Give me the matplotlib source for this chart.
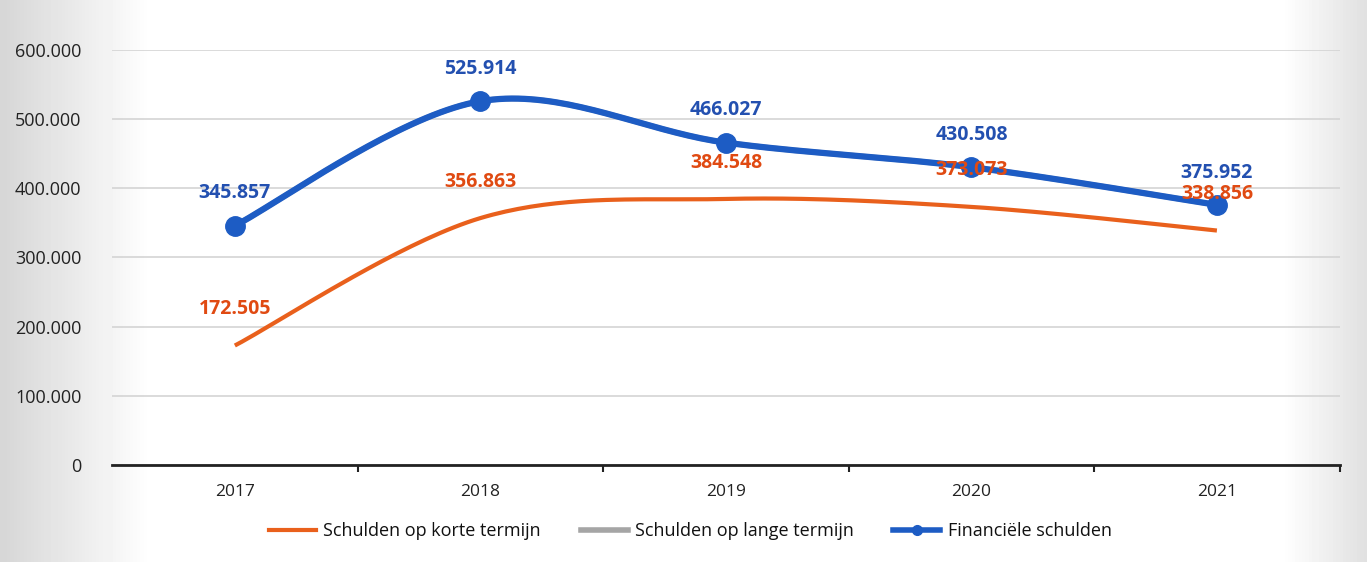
import numpy as np
import matplotlib.pyplot as plt
from matplotlib.lines import Line2D
from matplotlib.ticker import FuncFormatter

years = ["2017", "2018", "2019", "2020", "2021"]
korte_termijn = [172505, 356863, 384548, 373073, 338856]
lange_termijn = [345857, 525914, 466027, 430508, 375952]
financiele = [345857, 525914, 466027, 430508, 375952]

c_orange = "#e9601c"
c_orange_txt = "#e04a12"
c_gray = "#a5a5a5"
c_blue = "#1d5cc4"
c_blue_txt = "#2350b0"


def smooth(x, y, n=40):
    # Catmull-Rom style smoothing like Excel's "smoothed line"
    x = np.asarray(x, float)
    y = np.asarray(y, float)
    px = np.concatenate([[x[0]], x, [x[-1]]])
    py = np.concatenate([[y[0]], y, [y[-1]]])
    xs, ys = [], []
    t = np.linspace(0, 1, n)
    for i in range(1, len(px) - 2):
        p0 = np.array([px[i], py[i]])
        p3 = np.array([px[i + 1], py[i + 1]])
        p1 = p0 + (np.array([px[i + 1], py[i + 1]]) - np.array([px[i - 1], py[i - 1]])) / 6
        p2 = p3 - (np.array([px[i + 2], py[i + 2]]) - np.array([px[i], py[i]])) / 6
        b = ((1 - t) ** 3)[:, None] * p0 + (3 * (1 - t) ** 2 * t)[:, None] * p1 \
            + (3 * (1 - t) * t ** 2)[:, None] * p2 + (t ** 3)[:, None] * p3
        xs.append(b[:, 0])
        ys.append(b[:, 1])
    return np.concatenate(xs), np.concatenate(ys)


def fmt(v):
    return f"{v:,.0f}".replace(",", ".")


plt.rcParams["font.family"] = ["Open Sans", "DejaVu Sans"]

fig = plt.figure(figsize=(13.67, 5.62), dpi=100)

# scanned-page background: gray at the edges, white in the middle
bg = fig.add_axes([0, 0, 1, 1], zorder=-5)
gx = np.linspace(0, 1, 400)
shade = np.ones_like(gx)
shade = np.minimum(shade, 0.84 + 0.16 * np.clip(gx / 0.11, 0, 1))
shade = np.minimum(shade, 0.88 + 0.12 * np.clip((1 - gx) / 0.06, 0, 1))
bg.imshow(np.tile(shade, (10, 1)), cmap="gray", vmin=0, vmax=1, aspect="auto",
          extent=[0, 1, 0, 1])
bg.axis("off")

ax = fig.add_axes([0.082, 0.173, 0.898, 0.738])
ax.patch.set_alpha(0)
x = np.arange(len(years))

sx, sy = smooth(x, korte_termijn)
ax.plot(sx, sy, color=c_orange, lw=3, solid_capstyle="butt", zorder=3)
sx, sy = smooth(x, lange_termijn)
ax.plot(sx, sy, color=c_gray, lw=4, zorder=3)
sx, sy = smooth(x, financiele)
ax.plot(sx, sy, color=c_blue, lw=4.5, zorder=4)
ax.plot(x, financiele, "o", color=c_blue, ms=14, zorder=5)

for xi, v in zip(x, korte_termijn):
    ax.annotate(fmt(v), (xi, v), xytext=(0, 19), textcoords="offset points",
                ha="center", va="bottom", color=c_orange_txt, fontsize=14,
                fontweight="bold", zorder=6)
for xi, v in zip(x, financiele):
    ax.annotate(fmt(v), (xi, v), xytext=(0, 16), textcoords="offset points",
                ha="center", va="bottom", color=c_blue_txt, fontsize=14,
                fontweight="bold", zorder=6)

ax.set_xlim(-0.5, len(years) - 0.5)
ax.set_ylim(0, 600000)
ax.set_yticks(np.arange(0, 600001, 100000))
ax.yaxis.set_major_formatter(FuncFormatter(lambda v, p: fmt(v)))
ax.set_xticks(x)
ax.set_xticklabels(years)
ax.set_xticks(np.arange(0.5, len(years), 1), minor=True)
ax.tick_params(axis="x", which="major", length=0, pad=14, labelsize=12.5,
               labelcolor="#222222")
ax.tick_params(axis="x", which="minor", length=5, width=1.5, color="#222222",
               direction="out")
ax.tick_params(axis="y", length=0, pad=22, labelsize=13, labelcolor="#222222")
ax.grid(axis="y", color="#d4d4d4", lw=1.2)
ax.set_axisbelow(True)
for s in ["top", "right", "left"]:
    ax.spines[s].set_visible(False)
ax.spines["bottom"].set_color("#222222")
ax.spines["bottom"].set_linewidth(2)

handles = [
    Line2D([], [], color=c_orange, lw=3),
    Line2D([], [], color=c_gray, lw=4),
    Line2D([], [], color=c_blue, lw=4, marker="o", ms=7),
]
labels = ["Schulden op korte termijn", "Schulden op lange termijn", "Financiële schulden"]
fig.legend(handles, labels, loc="center", bbox_to_anchor=(0.505, 0.055), ncol=3,
           frameon=False, fontsize=13, handlelength=2.6, handletextpad=0.4,
           columnspacing=2.2, labelcolor="#111111")

fig.savefig("out.png", dpi=100)
